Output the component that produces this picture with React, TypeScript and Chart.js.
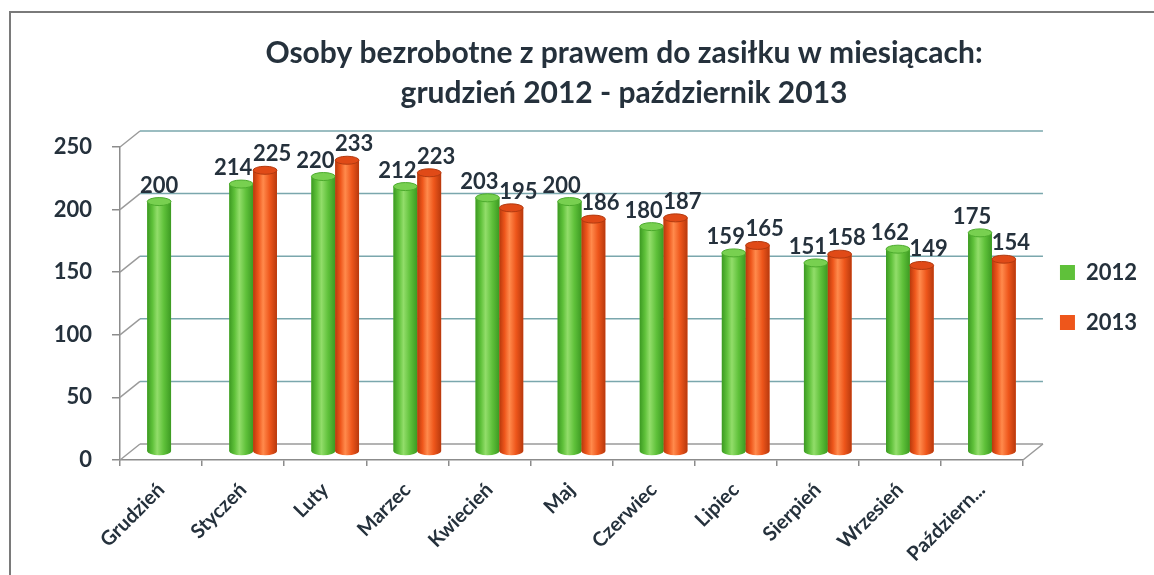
import React, { useEffect, useRef } from "react";
import { Chart, registerables } from "chart.js";

Chart.register(...registerables);

const categories = [
  "Grudzień",
  "Styczeń",
  "Luty",
  "Marzec",
  "Kwiecień",
  "Maj",
  "Czerwiec",
  "Lipiec",
  "Sierpień",
  "Wrzesień",
  "Październ...",
];
const values2012: (number | null)[] = [200, 214, 220, 212, 203, 200, 180, 159, 151, 162, 175];
const values2013: (number | null)[] = [null, 225, 233, 223, 195, 186, 187, 165, 158, 149, 154];
const seriesLabels = ["2012", "2013"];
const titleLines = [
  "Osoby bezrobotne z prawem do zasiłku w miesiącach:",
  "grudzień 2012 - październik 2013",
];
const yMin = 0;
const yMax = 250;
const yStep = 50;

const TEXT = "#25313c";
const FONT = "Lato, 'Open Sans', sans-serif";

const palettes = [
  { base: "#5fc13a", dark: "#3c9a22", mid: "#5fc13a", light: "#92dd6a", cap: "#78d050", capEdge: "#4cab2d" },
  { base: "#ee561b", dark: "#b8390d", mid: "#ee561b", light: "#ff8a4c", cap: "#e04a17", capEdge: "#b23a10" },
];

// 3D look: back wall offset and bar (mid-depth) offset
const WALL_DX = 20;
const WALL_DY = -16;
const BAR_DX = 10;
const BAR_DY = -8;

const frame3d = {
  id: "frame3d",
  afterLayout(chart: any) {
    const t = chart.titleBlock;
    if (t) {
      t.left += 55;
      t.right += 55;
    }
    const l = chart.legend;
    if (l) {
      l.left += 9;
      l.right += 9;
      l.top += 10;
      l.bottom += 10;
    }
  },
  beforeDatasetsDraw(chart: any) {
    const { ctx, chartArea, scales } = chart;
    const { left, right, bottom } = chartArea;
    const y = scales.y;
    const seg = (x1: number, y1: number, x2: number, y2: number) => {
      ctx.beginPath();
      ctx.moveTo(x1, y1);
      ctx.lineTo(x2, y2);
      ctx.stroke();
    };
    ctx.save();
    ctx.lineWidth = 1.5;
    y.ticks.forEach((t: any) => {
      const py = y.getPixelForValue(t.value);
      ctx.strokeStyle = "#9a9a9a";
      seg(left, py, left + WALL_DX, py + WALL_DY);
      ctx.strokeStyle = t.value === 0 ? "#9a9a9a" : "#7aa7ad";
      seg(left + WALL_DX, py + WALL_DY, right + WALL_DX, py + WALL_DY);
    });
    ctx.strokeStyle = "#9a9a9a";
    seg(right, bottom, right + WALL_DX, bottom + WALL_DY);
    ctx.restore();

    ctx.save();
    ctx.translate(BAR_DX, BAR_DY);
  },
  afterDatasetsDraw(chart: any) {
    const { ctx } = chart;
    const datasets = chart.data.datasets;
    const labels: { x: number; y: number; text: string }[] = [];
    datasets.forEach((ds: any, di: number) => {
      const meta = chart.getDatasetMeta(di);
      const pal = palettes[di];
      meta.data.forEach((bar: any, i: number) => {
        const v = ds.data[i];
        if (v == null) return;
        const { x, y, base, width } = bar.getProps(["x", "y", "base", "width"], true);
        const rx = width / 2;
        const ry = 4;
        const l = x - rx;
        const g = ctx.createLinearGradient(l, 0, l + width, 0);
        g.addColorStop(0, pal.dark);
        g.addColorStop(0.22, pal.mid);
        g.addColorStop(0.42, pal.light);
        g.addColorStop(0.7, pal.mid);
        g.addColorStop(1, pal.dark);
        ctx.fillStyle = g;
        ctx.beginPath();
        ctx.ellipse(x, base, rx, ry, 0, 0, Math.PI * 2);
        ctx.fill();
        ctx.fillRect(l, y, width, base - y);
        ctx.beginPath();
        ctx.ellipse(x, y, rx, ry, 0, 0, Math.PI * 2);
        ctx.fillStyle = pal.cap;
        ctx.fill();
        ctx.lineWidth = 1;
        ctx.strokeStyle = pal.capEdge;
        ctx.stroke();

        const other = datasets[1 - di] ? datasets[1 - di].data[i] : null;
        const off = other == null ? 0 : di === 0 ? -8 : 7;
        labels.push({ x: x + off, y: y - ry - 5, text: String(v) });
      });
    });
    ctx.font = `bold 22px ${FONT}`;
    ctx.fillStyle = TEXT;
    ctx.textAlign = "center";
    ctx.textBaseline = "alphabetic";
    labels.forEach((lb) => ctx.fillText(lb.text, lb.x, lb.y));
    ctx.restore();
  },
};

export default function App() {
  const canvasRef = useRef<HTMLCanvasElement | null>(null);

  useEffect(() => {
    if (!canvasRef.current) return;
    const chart = new Chart(canvasRef.current, {
      type: "bar",
      data: {
        labels: categories,
        datasets: [
          {
            label: seriesLabels[0],
            data: values2012,
            backgroundColor: palettes[0].base,
            borderWidth: 0,
            categoryPercentage: 0.58,
            barPercentage: 1,
          },
          {
            label: seriesLabels[1],
            data: values2013,
            backgroundColor: palettes[1].base,
            borderWidth: 0,
            categoryPercentage: 0.58,
            barPercentage: 1,
          },
        ],
      } as any,
      options: {
        animation: false,
        responsive: true,
        maintainAspectRatio: false,
        layout: { padding: { top: 0, left: 0, right: 16, bottom: 0 } },
        plugins: {
          title: {
            display: true,
            text: titleLines,
            color: TEXT,
            font: { family: FONT, size: 30, weight: "bold", lineHeight: 1.333 },
            padding: { top: 33, bottom: 34 },
          },
          legend: {
            position: "right",
            labels: {
              boxWidth: 15,
              boxHeight: 15,
              padding: 28,
              color: TEXT,
              font: { family: FONT, size: 22, weight: "bold" },
            },
          },
          tooltip: { enabled: false },
        },
        scales: {
          x: {
            grid: {
              offset: true,
              drawOnChartArea: false,
              drawTicks: true,
              tickLength: 6,
              color: "#8c8c8c",
              lineWidth: 1.5,
            },
            border: { display: true, color: "#8c8c8c", width: 1.5 },
            ticks: {
              autoSkip: false,
              minRotation: 45,
              maxRotation: 45,
              padding: 12,
              color: TEXT,
              font: { family: FONT, size: 20, weight: "bold" },
            },
            afterFit: (scale: any) => {
              scale.height = 115;
            },
          },
          y: {
            min: yMin,
            max: yMax,
            grid: {
              drawOnChartArea: false,
              drawTicks: true,
              tickLength: 8,
              color: "#8c8c8c",
              lineWidth: 1.5,
            },
            border: { display: true, color: "#8c8c8c", width: 1.5 },
            ticks: {
              stepSize: yStep,
              padding: 20,
              color: TEXT,
              font: { family: FONT, size: 22, weight: "bold" },
            },
            afterFit: (scale: any) => {
              scale.width = 120;
            },
          },
        },
      } as any,
      plugins: [frame3d as any],
    });
    return () => chart.destroy();
  }, []);

  return (
    <div style={{ position: "absolute", left: 0, top: 0, width: 1154, height: 575, background: "#fff" }}>
      <div
        style={{
          position: "absolute",
          left: 9,
          top: 11,
          right: 0,
          bottom: 0,
          borderTop: "2px solid #7a7a7a",
          borderLeft: "2px solid #7a7a7a",
        }}
      />
      <canvas ref={canvasRef} style={{ position: "absolute", left: 0, top: 0, width: 1154, height: 575 }} />
    </div>
  );
}
